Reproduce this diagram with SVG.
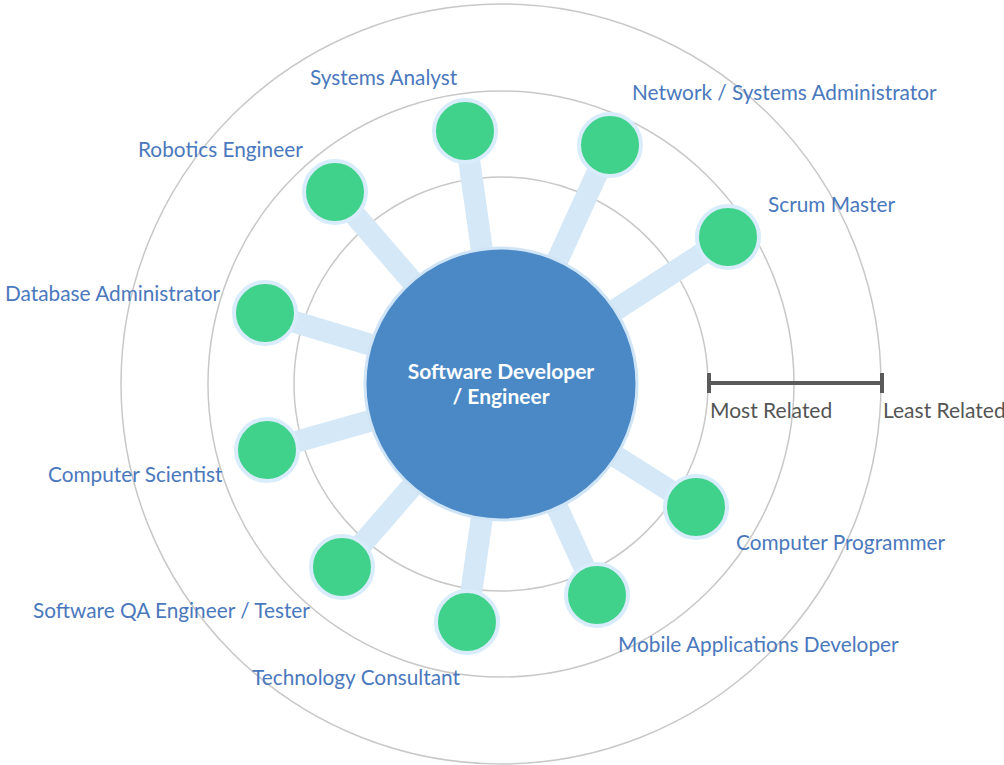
<svg xmlns="http://www.w3.org/2000/svg" width="1004" height="765" viewBox="0 0 1004 765">
<style>
.ring{fill:none;stroke:#c8c8c8;stroke-width:1.5}
.spoke{stroke:#d5e8f7;stroke-width:22;stroke-linecap:butt}
.node{fill:#40d18b;stroke:#d8ecfb;stroke-width:4}
.lbl{font-family:Lato,"Open Sans","Liberation Sans",sans-serif;font-size:20.8px;fill:#4a78bd}
.scale{font-family:Lato,"Open Sans","Liberation Sans",sans-serif;font-size:21px;fill:#555}
.center{font-family:Lato,"Open Sans","Liberation Sans",sans-serif;font-size:21px;font-weight:bold;fill:#fff}
</style>
<rect width="1004" height="765" fill="#fff"/>
<g id="rings">
<circle class="ring" cx="501" cy="384" r="207"/>
<circle class="ring" cx="501" cy="384" r="293"/>
<circle class="ring" cx="501" cy="384" r="380"/>
</g>
<g id="connectors">
<line class="spoke" x1="501" y1="384" x2="465" y2="131"/>
<line class="spoke" x1="501" y1="384" x2="610" y2="145"/>
<line class="spoke" x1="501" y1="384" x2="335" y2="192"/>
<line class="spoke" x1="501" y1="384" x2="728" y2="237"/>
<line class="spoke" x1="501" y1="384" x2="265" y2="313"/>
<line class="spoke" x1="501" y1="384" x2="267" y2="450"/>
<line class="spoke" x1="501" y1="384" x2="342" y2="567"/>
<line class="spoke" x1="501" y1="384" x2="467" y2="622"/>
<line class="spoke" x1="501" y1="384" x2="597" y2="595"/>
<line class="spoke" x1="501" y1="384" x2="696" y2="507"/>
</g>
<g id="center">
<circle cx="501" cy="384" r="136" fill="#4a89c6" stroke="#cfe5f7" stroke-width="3"/>
<text class="center" x="501" y="379" text-anchor="middle">Software Developer</text>
<text class="center" x="501" y="404" text-anchor="middle">/ Engineer</text>
</g>
<g id="systems-analyst"><circle class="node" cx="465" cy="131" r="31"/><text class="lbl" x="310" y="85">Systems Analyst</text></g>
<g id="network-admin"><circle class="node" cx="610" cy="145" r="31"/><text class="lbl" x="632" y="100">Network / Systems Administrator</text></g>
<g id="robotics"><circle class="node" cx="335" cy="192" r="31"/><text class="lbl" x="138" y="157">Robotics Engineer</text></g>
<g id="scrum"><circle class="node" cx="728" cy="237" r="31"/><text class="lbl" x="768" y="212">Scrum Master</text></g>
<g id="dba"><circle class="node" cx="265" cy="313" r="31"/><text class="lbl" x="5" y="301">Database Administrator</text></g>
<g id="cs"><circle class="node" cx="267" cy="450" r="31"/><text class="lbl" x="48" y="482">Computer Scientist</text></g>
<g id="qa"><circle class="node" cx="342" cy="567" r="31"/><text class="lbl" x="33" y="618">Software QA Engineer / Tester</text></g>
<g id="tech"><circle class="node" cx="467" cy="622" r="31"/><text class="lbl" x="252" y="685">Technology Consultant</text></g>
<g id="mobile"><circle class="node" cx="597" cy="595" r="31"/><text class="lbl" x="618" y="652">Mobile Applications Developer</text></g>
<g id="programmer"><circle class="node" cx="696" cy="507" r="31"/><text class="lbl" x="736" y="550">Computer Programmer</text></g>
<g id="scale-bar">
<path d="M709 383H882M709 373V393M882 373V393" stroke="#5a5a5a" stroke-width="4" fill="none"/>
<text class="scale" x="710" y="418">Most Related</text>
<text class="scale" x="883" y="418">Least Related</text>
</g>
</svg>
